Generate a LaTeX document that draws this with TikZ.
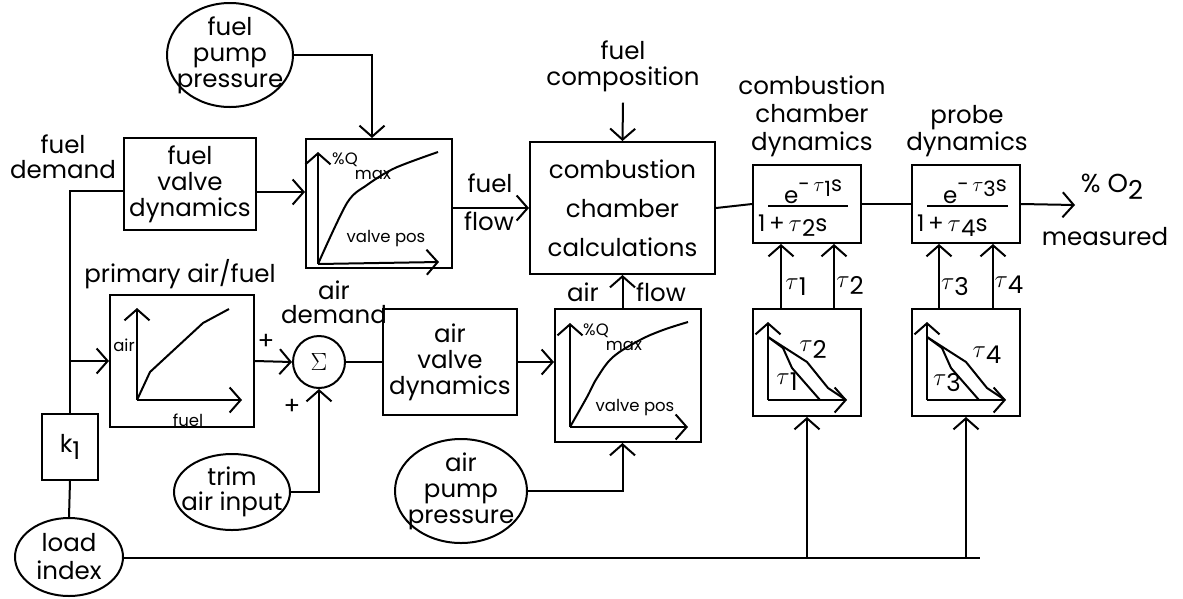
\documentclass[tikz,border=0pt]{standalone}
\usepackage{fontspec}
\setmainfont{Poppins}
\usetikzlibrary{arrows.meta,shapes.geometric,calc}
\newcommand{\tsub}[1]{$\tau$\raisebox{-0.45ex}{#1}}
\tikzset{
 arr/.style={-{Straight Barb[length=11pt,width=25pt,line width=2pt]}},
 blk/.style={draw, line width=2pt, align=center, inner sep=0pt},
 oval/.style={draw, ellipse, line width=2pt, inner sep=0pt},
 lbl/.style={align=center, inner sep=0pt},
 sm/.style={font=\fontsize{16.5}{18}\selectfont, inner sep=0pt},
 curve/.style={line width=2pt, line join=round},
 frac/.style={anchor=base west, inner sep=0pt, font=\fontsize{23}{24}\selectfont},
}
\begin{document}
\begin{tikzpicture}[x=1pt,y=-1pt, line width=2pt,
  every node/.style={font=\fontsize{24.5}{26}\selectfont}]
\useasboundingbox (0,0) rectangle (1183,598);

% ---------- nodes ----------
\node[oval, minimum width=126pt, minimum height=104pt,
  label={[lbl]center:{fuel\\pump\\pressure}}] (fpp) at (230,55) {};
\node[lbl, font=\fontsize{24.5}{25}\selectfont] (fd) at (63,157) {fuel\\demand};
\node[blk, minimum width=132pt, minimum height=92pt] (fv) at (190,184) {fuel\\valve\\dynamics};
\node[blk, minimum width=146pt, minimum height=129pt] (fc) at (379,203.5) {};
\node[lbl] (ffa) at (490,183) {fuel};
\node[lbl] (ffb) at (489,221) {flow};
\node[lbl] (fcomp) at (623,66) {fuel\\composition};
\node[blk, minimum width=185pt, minimum height=132pt,
  font=\fontsize{24.5}{39}\selectfont] (cc) at (622.5,208) {combustion\\chamber\\calculations};
\node[lbl, font=\fontsize{24.5}{28}\selectfont] (cdl) at (812,116) {combustion\\chamber\\dynamics};
\node[lbl, font=\fontsize{24.5}{27}\selectfont] (pdl) at (967,131) {probe\\dynamics};
\node[blk, minimum width=108pt, minimum height=78pt] (cd) at (807,204) {};
\node[blk, minimum width=108pt, minimum height=78pt] (pd) at (966,204) {};
\coordinate (o2) at (1075,205);
\node[lbl, font=\fontsize{26}{28}\selectfont] (o2l) at (1112,187) {\% O\raisebox{-0.5ex}{2}};
\node[lbl] (meas) at (1105,237) {measured};
\node[blk, minimum width=108pt, minimum height=107pt] (ct) at (807,362.5) {};
\node[blk, minimum width=108pt, minimum height=107pt] (pt) at (966,362.5) {};

\node[lbl] (pafl) at (180,274) {primary air/fuel};
\node[blk, minimum width=144pt, minimum height=132pt] (pa) at (182,361) {};
\node[draw, circle, minimum size=52pt, inner sep=0pt, font=\fontsize{38}{38}\selectfont] (sum) at (319,362) {$\Sigma$};
\node[lbl, font=\fontsize{24.5}{24}\selectfont] (adl) at (334,302) {air\\demand};
\node[lbl] (p1) at (266,342) {+};
\node[lbl] (p2) at (292,407) {+};
\node[blk, minimum width=134pt, minimum height=106pt] (av) at (450,362) {air\\valve\\dynamics};
\node[blk, minimum width=146pt, minimum height=133pt] (ac) at (628,375.5) {};
\node[lbl] (afa) at (583,292) {air};
\node[lbl] (afb) at (661,292) {flow};
\node[oval, minimum width=132pt, minimum height=104pt,
  label={[lbl]center:{air\\pump\\pressure}}] (app) at (461,491) {};
\node[oval, minimum width=116pt, minimum height=76pt,
  label={[lbl,font=\fontsize{24.5}{25}\selectfont]center:{trim\\air input}}] (trim) at (232,492) {};
\node[blk, minimum width=56pt, minimum height=66pt] (k1) at (70,447) {k\raisebox{-0.5ex}{1}};
\node[oval, minimum width=108pt, minimum height=78pt,
  label={[lbl,font=\fontsize{24.5}{28}\selectfont]center:{load\\index}}] (li) at (69,557) {};
\coordinate (lend) at (980,558);

% ---------- connectors ----------
\draw[arr] (fpp.east) -| ([xshift=-7pt]fc.north);
\draw (k1.north) |- ([yshift=-7pt]fv.west);
\draw[arr] (k1.north |- pa.west) -- (pa.west);
\draw (k1.south) -- (li.north);
\draw[arr] ([yshift=-8pt]fv.east) -- ([yshift=-8pt]fv.east -| fc.west);
\draw[arr] (fc.east |- cc.west) -- (cc.west);
\draw[arr] ([yshift=-10pt]fcomp.south) -- (cc.north);
\draw[arr] (ac.north -| cc.south) -- (cc.south);
\draw[arr] (app.east) -| (ac.south -| cc.south);
\draw (cc.east) -- (cd.west);
\draw (cd.east) -- (pd.west);
\draw[arr] (pd.east) -- (o2);
\draw[arr] ([xshift=-26pt]ct.north) -- ([xshift=-26pt]cd.south);
\draw[arr] ([xshift=27pt]ct.north) -- ([xshift=27pt]cd.south);
\draw[arr] ([xshift=-27pt]pt.north) -- ([xshift=-27pt]pd.south);
\draw[arr] ([xshift=27pt]pt.north) -- ([xshift=27pt]pd.south);
\draw (li.east |- lend) -- (lend);
\draw[arr] (ct.south |- lend) -- (ct.south);
\draw[arr] (pt.south |- lend) -- (pt.south);
\draw[arr] (pa.east) -- (sum.west);
\draw[arr] (trim.east) -| (sum.south);
\draw (sum.east) -- (av.west);
\draw[arr] (av.east) -- (av.east -| ac.west);

% tau labels
\node[lbl] (t1) at (796,287) {\tsub1};
\node[lbl] (t2) at (850,285) {\tsub2};
\node[lbl] (t3) at (955,287) {\tsub3};
\node[lbl] (t4) at (1009,285) {\tsub4};

% fractions
\node[frac] (cdn) at (783,203) {e\raisebox{12pt}{\fontsize{21}{21}\selectfont -\,\tsub1s}};
\draw (768,206) -- (848,206);
\node[frac] (cdd) at (757,231) {1\,+\,\tsub2s};
\node[frac] (pdn) at (942,203) {e\raisebox{12pt}{\fontsize{21}{21}\selectfont -\,\tsub3s}};
\draw (927,206) -- (1008,206);
\node[frac] (pdd) at (916,231) {1\,+\,\tsub4s};

% ---------- chart contents ----------
% fuel chart
\draw[arr] (318,264) -- (318,152);
\draw[arr] (318,264) -- (439,262);
\draw[curve] plot[smooth, tension=0.5] coordinates {(318,264) (347,203) (367,185) (395,168) (438,152)};
\node[sm] at (345,160) {\%Q};
\node[sm] at (373,175) {max};
\node[sm] at (386,239) {valve pos};
% air chart
\draw[arr] (570,427) -- (570,323);
\draw[arr] (570,427) -- (688,427);
\draw[curve] plot[smooth, tension=0.6] coordinates {(570,427) (587,397) (597,378) (613,357) (640,340) (663,330) (688,322)};
\node[sm] at (596,331) {\%Q};
\node[sm] at (624,346) {max};
\node[sm] at (635,408) {valve pos};
% primary air/fuel chart
\draw[arr] (137,400) -- (137,308);
\draw[arr] (137,400) -- (242,400);
\draw[curve] (137,400) -- (150,372) -- (203,323) -- (229,309);
\node[sm] at (124,345) {air};
\node[sm] at (188,420) {fuel};
% tau charts
\foreach \dx in {0,159}{
 \begin{scope}[xshift=\dx pt]
  \draw[arr] (768,400) -- (768,322);
  \draw[arr] (768,400) -- (847,400);
  \draw[curve] (768,337) -- (783,348) -- (792,368) -- (820,400);
  \draw[curve] (768,337) -- (807,362) -- (828,388) -- (846,400);
 \end{scope}
}
\node[lbl] (t2b) at (813,349) {\tsub2};
\node[lbl] (t1b) at (787,382) {\tsub1};
\node[lbl] (t4b) at (987,355) {\tsub4};
\node[lbl] (t3b) at (947,383) {\tsub3};
\end{tikzpicture}
\end{document}
